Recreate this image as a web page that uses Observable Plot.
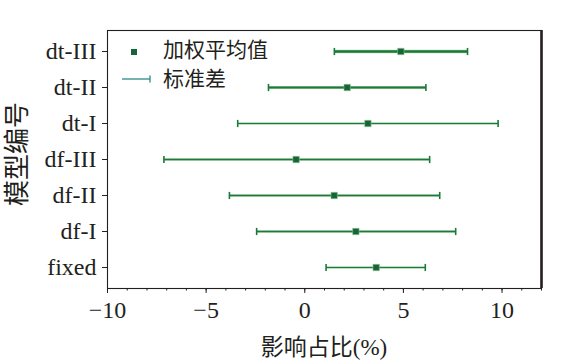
<!DOCTYPE html>
<html><head><meta charset="utf-8">
<script src="https://cdn.jsdelivr.net/npm/d3@7"></script>
<script src="https://cdn.jsdelivr.net/npm/@observablehq/plot@0.6"></script>
<style>body{margin:0;background:#fff} #chart{width:570px;height:360px}</style>
</head><body><div id="chart"></div>
<script>
const models = ["dt-III","dt-II","dt-I","df-III","df-II","df-I","fixed"];
const means = [4.87, 2.15, 3.2, -0.44, 1.49, 2.59, 3.62];
const lows = [1.5, -1.84, -3.4, -7.14, -3.82, -2.44, 1.08];
const highs = [8.25, 6.14, 9.8, 6.33, 6.84, 7.65, 6.11];
const xTicks = [-10, -5, 0, 5, 10];
const legendLabels = ["加权平均值", "标准差"];
const xLabel = "影响占比(%)";
const yLabel = "模型编号";

const rows = models.map((m, i) => ({model: m, mean: means[i], low: lows[i], high: highs[i]}));
const lineW = {"dt-III": 2.3, "dt-II": 2, "dt-I": 1.2, "df-III": 1.4, "df-II": 1.4, "df-I": 1.5, "fixed": 1.2};
const green = "#1b7a3a", dark = "#16653a", halo = "#8cc08c", ink = "#231f20";
const FONT = "'Liberation Serif','Times New Roman','Noto Sans CJK SC',serif";
const capSymbol = {draw(ctx, size) { const h = Math.sqrt(size / Math.PI); ctx.moveTo(0, -h); ctx.lineTo(0, h); }};

const chart = Plot.plot({
  width: 570, height: 360,
  marginLeft: 107, marginRight: 29, marginTop: 30, marginBottom: 72,
  style: {fontFamily: FONT, color: ink, background: "#fff"},
  x: {domain: [-10, 12]},
  y: {type: "point", domain: models, padding: 0.5},
  marks: [
    Plot.frame({stroke: ink, strokeWidth: 1.1}),
    Plot.ruleX([12], {stroke: ink, strokeWidth: 2.6}),
    Plot.axisX({ticks: d3.range(-10, 13, 1), tickSize: 2.5, text: null, label: null, stroke: ink}),
    Plot.axisX({ticks: xTicks, tickSize: 5, tickPadding: 7, fontSize: 24, label: null, stroke: ink, fill: ink}),
    Plot.axisY({tickSize: 5, tickPadding: 6, fontSize: 24, label: null, stroke: ink, fill: ink}),
    Plot.link(rows, {x1: "low", x2: "high", y1: "model", y2: "model", stroke: halo, strokeOpacity: 0.7, strokeWidth: d => lineW[d.model] + 1.2}),
    Plot.link(rows, {x1: "low", x2: "high", y1: "model", y2: "model", stroke: green, strokeWidth: d => lineW[d.model]}),
    Plot.dot(rows, {x: "low", y: "model", symbol: capSymbol, r: 3.6, fill: "none", stroke: green, strokeWidth: 1.6}),
    Plot.dot(rows, {x: "high", y: "model", symbol: capSymbol, r: 3.6, fill: "none", stroke: green, strokeWidth: 1.6}),
    Plot.dot(rows, {x: "mean", y: "model", symbol: "square", r: 3.6, fill: dark, stroke: halo, strokeWidth: 0.6})
  ]
});
document.getElementById("chart").appendChild(chart);

const svg = d3.select(chart);
// axis titles
svg.append("text").attr("x", 324).attr("y", 355).attr("text-anchor", "middle")
  .attr("font-family", FONT).attr("font-size", 23).attr("fill", ink).text(xLabel);
svg.append("text").attr("transform", "translate(26,154) rotate(-90)").attr("text-anchor", "middle")
  .attr("font-family", FONT).attr("font-size", 26).attr("fill", ink).text(yLabel);
// legend
const lg = svg.append("g");
lg.append("rect").attr("x", 131).attr("y", 49).attr("width", 6).attr("height", 6).attr("fill", dark);
lg.append("text").attr("x", 163).attr("y", 50).attr("dy", "0.35em").attr("text-anchor", "start").attr("font-family", FONT)
  .attr("font-size", 21).attr("fill", ink).text(legendLabels[0]);
lg.append("line").attr("x1", 122).attr("x2", 150).attr("y1", 79).attr("y2", 79).attr("stroke", "#2a8a86").attr("stroke-width", 1.3);
lg.append("line").attr("x1", 150).attr("x2", 150).attr("y1", 75.5).attr("y2", 82.5).attr("stroke", "#2a8a86").attr("stroke-width", 1.3);
lg.append("text").attr("x", 163).attr("y", 79).attr("dy", "0.35em").attr("text-anchor", "start").attr("font-family", FONT)
  .attr("font-size", 21).attr("fill", ink).text(legendLabels[1]);
</script>
</body></html>
